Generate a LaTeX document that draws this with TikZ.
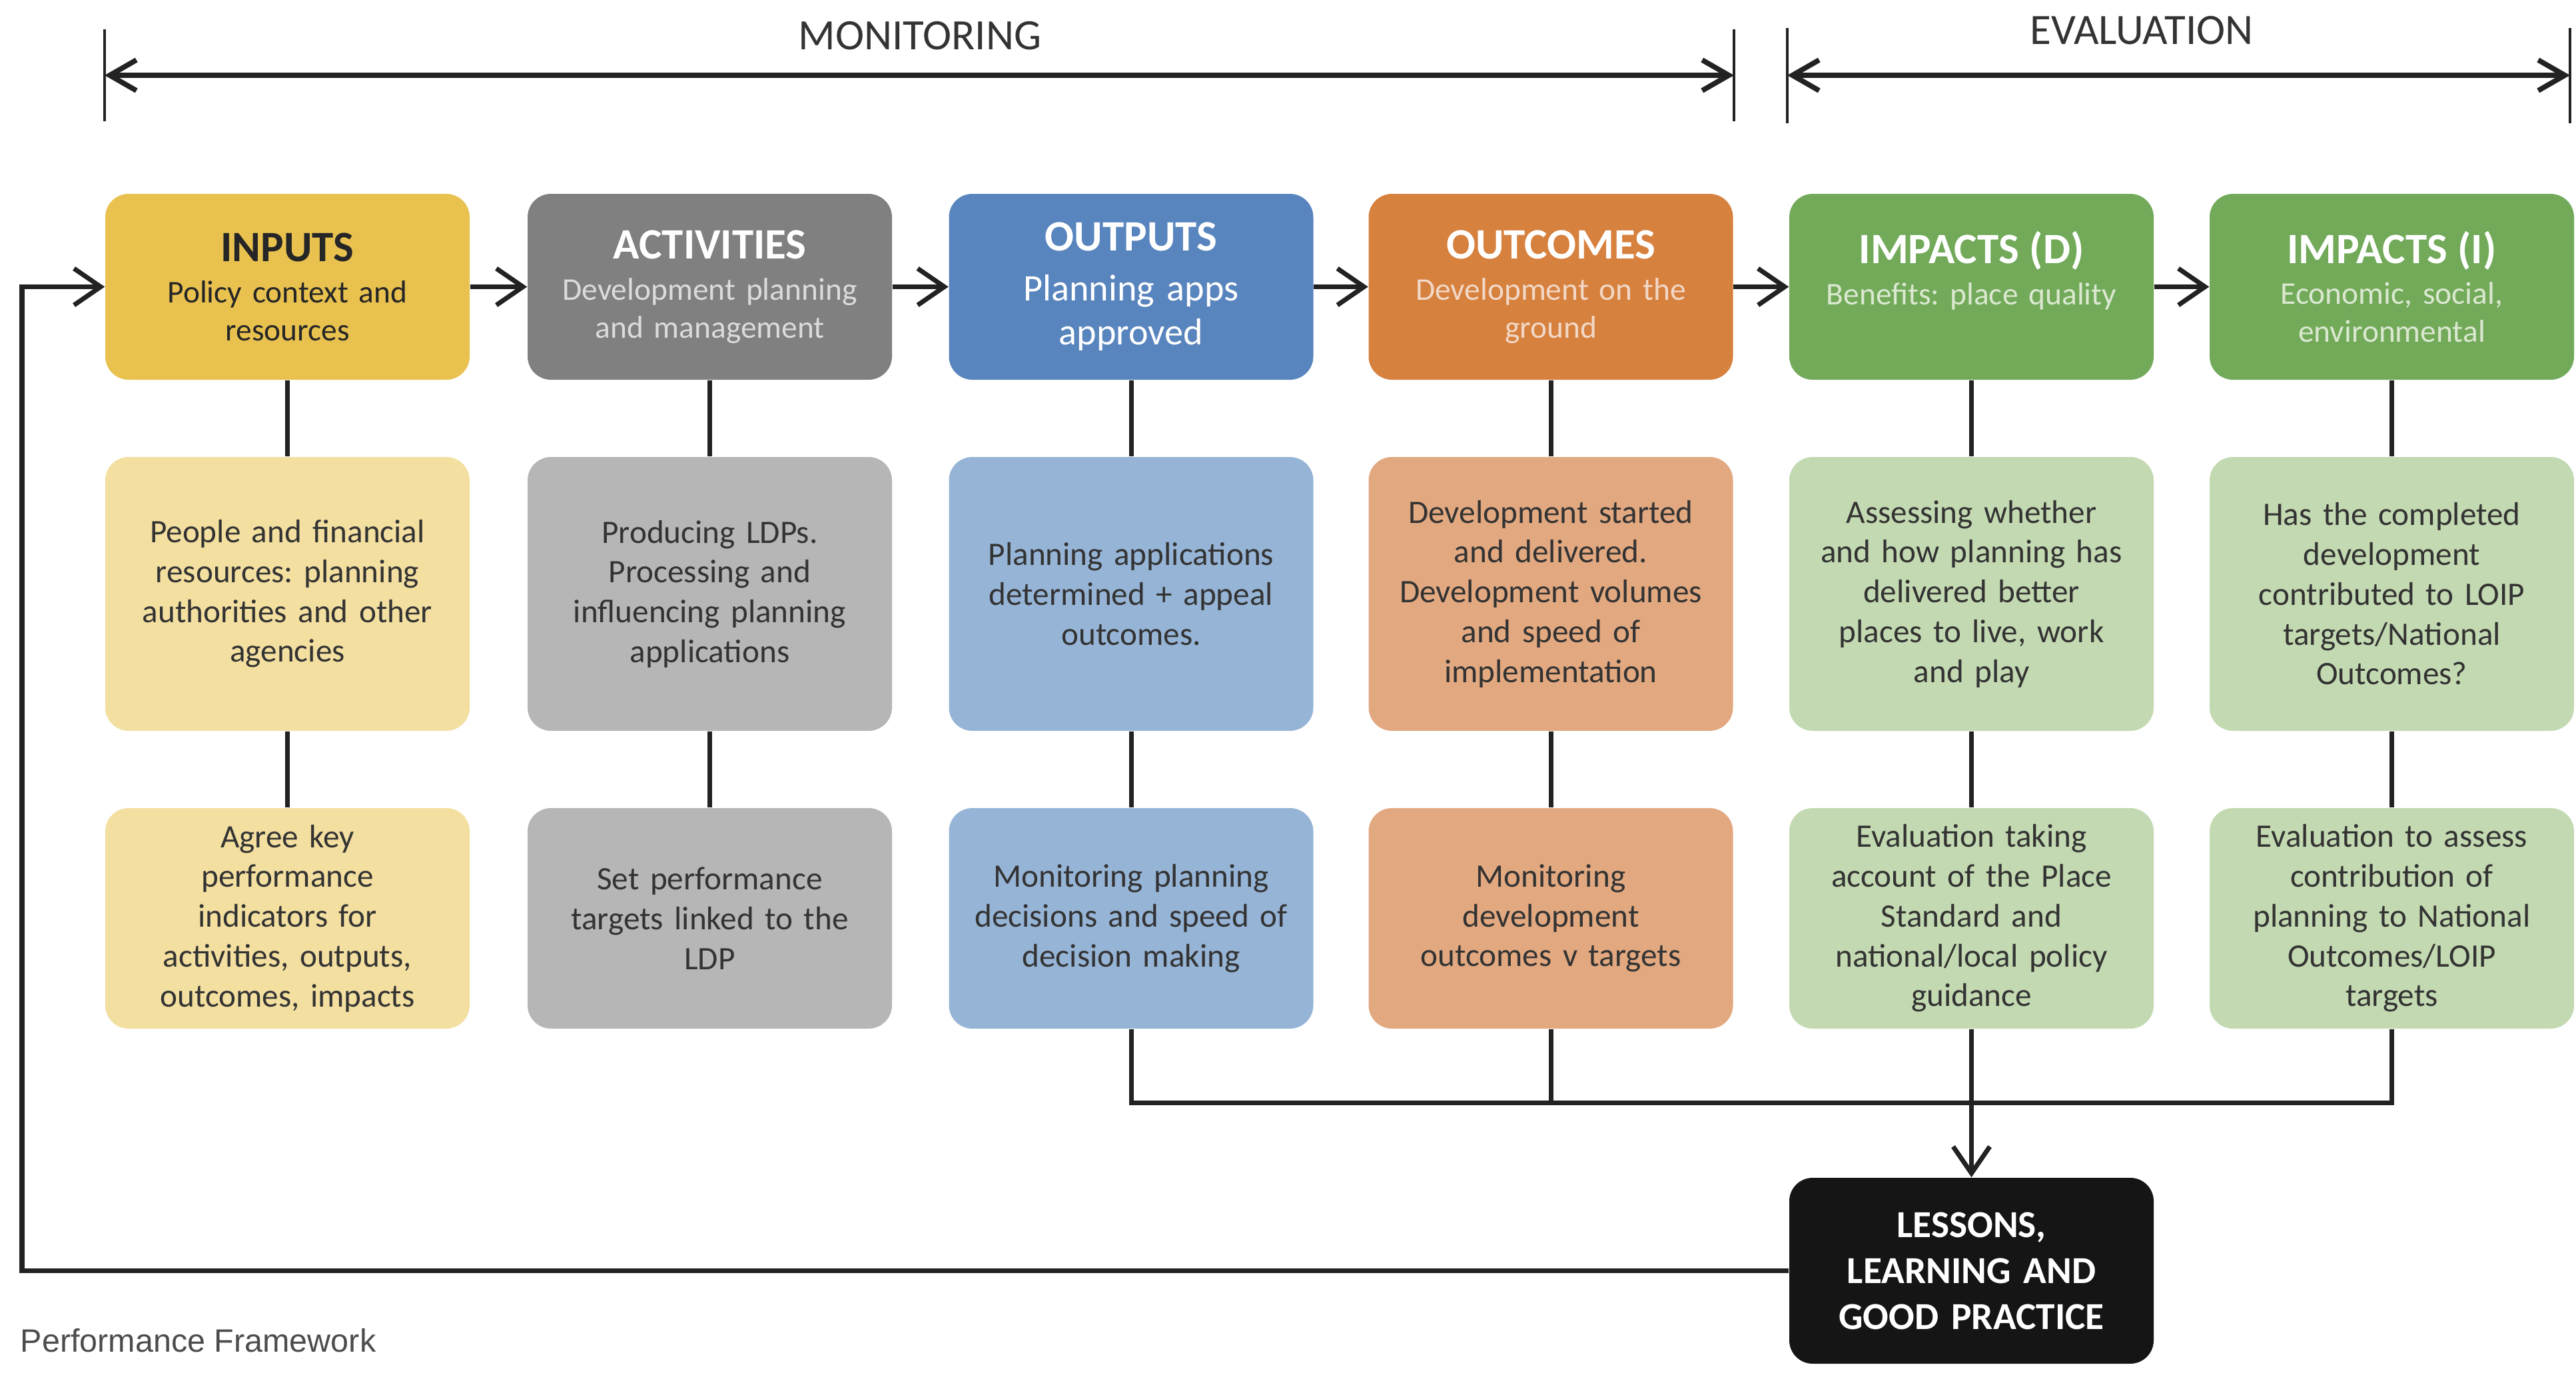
\documentclass[tikz,border=0pt]{standalone}
\usepackage{fontspec}
\setmainfont{Carlito}
\newfontfamily\pfont{Liberation Sans}
\usetikzlibrary{arrows.meta}
\frenchspacing
\definecolor{inD}{HTML}{E8C14F}
\definecolor{inL}{HTML}{F3DFA0}
\definecolor{acD}{HTML}{808080}
\definecolor{acL}{HTML}{B6B6B6}
\definecolor{ouD}{HTML}{5985BE}
\definecolor{ouL}{HTML}{96B4D6}
\definecolor{ocD}{HTML}{D7813F}
\definecolor{ocL}{HTML}{E2A880}
\definecolor{imD}{HTML}{72AA5A}
\definecolor{imL}{HTML}{C3D9B1}
\definecolor{lesC}{HTML}{151515}
\definecolor{linec}{HTML}{222222}
\definecolor{bodytxt}{HTML}{333333}
\definecolor{toptxt}{HTML}{333333}
\newcommand{\hfnt}{\fontsize{18.5}{22}\selectfont\bfseries}
\newcommand{\sfnt}{\fontsize{13.5}{16.2}\selectfont}
\newcommand{\sfntbig}{\fontsize{16}{19}\selectfont}
\tikzset{
  box/.style={rounded corners=0.35cm, minimum width=5.47cm, align=center, inner sep=0pt, text width=5.2cm},
  headbox/.style={box, minimum height=2.79cm, font=\sfnt},
  midbox/.style={box, minimum height=4.11cm, font=\fontsize{14}{17}\selectfont, text=bodytxt},
  lowbox/.style={box, minimum height=3.31cm, font=\fontsize{14}{17}\selectfont, text=bodytxt},
  conn/.style={line width=2pt, draw=linec},
  flow/.style={conn, -{Straight Barb[length=4mm,width=5.5mm]}},
  dimline/.style={line width=2.2pt, draw=linec, {Straight Barb[length=4mm,width=4.6mm]}-{Straight Barb[length=4mm,width=4.6mm]}},
  dimbar/.style={line width=1.1pt, draw=linec},
  toplabel/.style={font=\fontsize{18.5}{22}\selectfont, text=toptxt, inner sep=0pt}
}
\begin{document}
\begin{tikzpicture}
\useasboundingbox (0,0) rectangle (38.67,-20.6);

% ---------- brackets ----------
\coordinate (mL) at (1.57,-1.13);
\coordinate (mR) at (26.03,-1.13);
\coordinate (eL) at (26.83,-1.13);
\coordinate (eR) at (38.58,-1.13);
\draw[dimbar] (1.57,-0.44) -- (1.57,-1.82);
\draw[dimbar] (26.03,-0.44) -- (26.03,-1.82);
\draw[dimbar] (26.83,-0.42) -- (26.83,-1.85);
\draw[dimbar] (38.58,-0.42) -- (38.58,-1.85);
\draw[dimline] (mL) -- (mR);
\draw[dimline] (eL) -- (eR);
\node[toplabel] (mon) at (13.81,-0.54) {MONITORING};
\node[toplabel] (eva) at (32.15,-0.46) {EVALUATION};

% ---------- row 1 ----------
\node[headbox, fill=inD, text=black!85] (c1r1) at (4.315,-4.305)
  {{\hfnt INPUTS}\\[1.4pt]Policy context and\\resources};
\node[headbox, fill=acD, text=white!86!black] (c2r1) at (10.655,-4.305)
  {{\hfnt\color{white} ACTIVITIES}\\[1.4pt]Development planning\\and management};
\node[headbox, fill=ouD, text=white, font=\sfntbig] (c3r1) at (16.98,-4.305)
  {{\hfnt OUTPUTS}\\[2.2pt]Planning apps\\approved};
\node[headbox, fill=ocD, text=ocL!45!white] (c4r1) at (23.28,-4.305)
  {{\hfnt\color{white} OUTCOMES}\\[1.4pt]Development on the\\ground};
\node[headbox, fill=imD, text=imL!60!white] (c5r1) at (29.595,-4.305)
  {{\hfnt\color{white} IMPACTS (D)}\\[1.4pt]Benefits: place quality\\\mbox{}};
\node[headbox, fill=imD, text=imL!60!white] (c6r1) at (35.905,-4.305)
  {{\hfnt\color{white} IMPACTS (I)}\\[1.4pt]Economic, social,\\environmental};

% ---------- row 2 ----------
\node[midbox, fill=inL] (c1r2) at (4.315,-8.915)
  {People and financial\\resources: planning\\authorities and other\\agencies};
\node[midbox, fill=acL] (c2r2) at (10.655,-8.915)
  {Producing LDPs.\\Processing and\\influencing planning\\applications};
\node[midbox, fill=ouL] (c3r2) at (16.98,-8.915)
  {Planning applications\\determined + appeal\\outcomes.};
\node[midbox, fill=ocL] (c4r2) at (23.28,-8.915)
  {Development started\\and delivered.\\Development volumes\\and speed of\\implementation};
\node[midbox, fill=imL] (c5r2) at (29.595,-8.915)
  {Assessing whether\\and how planning has\\delivered better\\places to live, work\\and play};
\node[midbox, fill=imL] (c6r2) at (35.905,-8.915)
  {Has the completed\\development\\contributed to LOIP\\targets/National\\Outcomes?};

% ---------- row 3 ----------
\node[lowbox, fill=inL] (c1r3) at (4.315,-13.785)
  {Agree key\\performance\\indicators for\\activities, outputs,\\outcomes, impacts};
\node[lowbox, fill=acL] (c2r3) at (10.655,-13.785)
  {Set performance\\targets linked to the\\LDP};
\node[lowbox, fill=ouL] (c3r3) at (16.98,-13.785)
  {Monitoring planning\\decisions and speed of\\decision making};
\node[lowbox, fill=ocL] (c4r3) at (23.28,-13.785)
  {Monitoring\\development\\outcomes v targets};
\node[lowbox, fill=imL] (c5r3) at (29.595,-13.785)
  {Evaluation taking\\account of the Place\\Standard and\\national/local policy\\guidance};
\node[lowbox, fill=imL] (c6r3) at (35.905,-13.785)
  {Evaluation to assess\\contribution of\\planning to National\\Outcomes/LOIP\\targets};

% ---------- lessons ----------
\node[box, minimum height=2.79cm, fill=lesC, text=white,
      font=\fontsize{16.3}{19.6}\selectfont\bfseries] (les) at (29.595,-19.075)
  {LESSONS,\\LEARNING AND\\GOOD PRACTICE};

\node[anchor=west, inner sep=0pt, font=\pfont\fontsize{13.8}{16}\selectfont, text=black!70] (cap) at (0.3,-20.12)
  {Performance Framework};

% ---------- flow arrows ----------
\draw[flow] (c1r1.east) -- (c2r1.west);
\draw[flow] (c2r1.east) -- (c3r1.west);
\draw[flow] (c3r1.east) -- (c4r1.west);
\draw[flow] (c4r1.east) -- (c5r1.west);
\draw[flow] (c5r1.east) -- (c6r1.west);

% ---------- vertical links ----------
\foreach \c in {1,...,6}{
  \draw[conn] (c\c r1.south) -- (c\c r2.north);
  \draw[conn] (c\c r2.south) -- (c\c r3.north);
}

% ---------- bus to lessons ----------
\coordinate (bus) at (29.595,-16.55);
\draw[conn] (c3r3.south) |- (bus) -| (c6r3.south);
\draw[conn] (c4r3.south) -- (c4r3.south |- bus);
\draw[flow] (c5r3.south) -- (les.north);

% ---------- feedback loop ----------
\coordinate (fb) at (0.33,-19.075);
\draw[flow] (les.west) -- (fb) |- (c1r1.west);
\end{tikzpicture}
\end{document}
